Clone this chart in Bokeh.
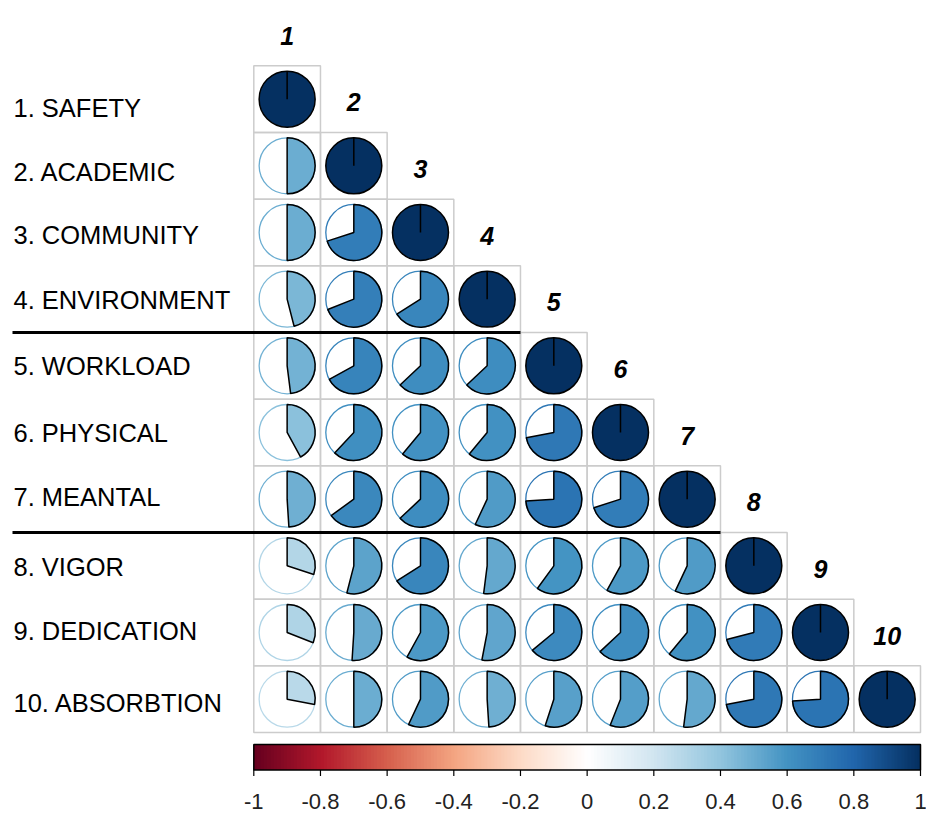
import math

import numpy as np
from bokeh.core.properties import value
from bokeh.embed import file_html
from bokeh.models import ColumnDataSource, Range1d
from bokeh.plotting import figure
from bokeh.resources import INLINE

# ---------------------------------------------------------------- data
variables = [
    "1. SAFETY", "2. ACADEMIC", "3. COMMUNITY", "4. ENVIRONMENT",
    "5. WORKLOAD", "6. PHYSICAL", "7. MEANTAL", "8. VIGOR",
    "9. DEDICATION", "10. ABSORBTION",
]
headers = ["1", "2", "3", "4", "5", "6", "7", "8", "9", "10"]

# lower triangle of the correlation matrix (row i, columns 1..i-1)
lower = [
    [],
    [0.50],
    [0.50, 0.70],
    [0.46, 0.69, 0.66],
    [0.48, 0.67, 0.63, 0.63],
    [0.42, 0.62, 0.61, 0.61, 0.72],
    [0.49, 0.65, 0.63, 0.57, 0.74, 0.70],
    [0.30, 0.54, 0.66, 0.52, 0.60, 0.58, 0.57],
    [0.31, 0.51, 0.58, 0.53, 0.64, 0.63, 0.61, 0.71],
    [0.28, 0.50, 0.57, 0.49, 0.55, 0.56, 0.52, 0.72, 0.74],
]

tick_values = [-1.0, -0.8, -0.6, -0.4, -0.2, 0.0, 0.2, 0.4, 0.6, 0.8, 1.0]
tick_labels = ["-1", "-0.8", "-0.6", "-0.4", "-0.2", "0", "0.2", "0.4", "0.6", "0.8", "1"]

# variable groups are separated after these rows
group_breaks = [4, 7]

# ---------------------------------------------------------------- palette
ramp = ["#67001F", "#B2182B", "#D6604D", "#F4A582", "#FDDBC7", "#FFFFFF",
        "#D1E5F0", "#92C5DE", "#4393C3", "#2166AC", "#053061"]


def _rgb(h):
    return tuple(int(h[k:k + 2], 16) for k in (1, 3, 5))


def make_palette(anchors, n_colors):
    rgbs = [_rgb(a) for a in anchors]
    out = []
    for k in range(n_colors):
        pos = k / (n_colors - 1) * (len(rgbs) - 1)
        lo = min(int(math.floor(pos)), len(rgbs) - 2)
        f = pos - lo
        c = [round(rgbs[lo][m] + (rgbs[lo + 1][m] - rgbs[lo][m]) * f) for m in range(3)]
        out.append("#%02x%02x%02x" % tuple(c))
    return out


palette = make_palette(ramp, 200)


def color_for(r):
    return palette[int(round((r + 1) / 2 * 199))]


# ---------------------------------------------------------------- layout
W, H = 926, 813
n = len(variables)
CELL = 66.67                 # pixels per matrix cell
X0_PX, Y0_PX = 253.3, 65.3   # top-left corner of the matrix
RADIUS = 0.42
# small vertical nudges (pixels, downwards) for the row labels
label_nudge_px = [9, 6, 3, 1, 0, 1, -2, 1, -1, 4]


def px_x(px):
    return 0.5 + (px - X0_PX) / CELL


def px_y(py):
    return n + 0.5 - (py - Y0_PX) / CELL


def row_y(i):          # i is 1-based row index, row 1 on top
    return n + 1 - i


p = figure(width=W, height=H,
           x_range=Range1d(px_x(0), px_x(W)),
           y_range=Range1d(px_y(H), px_y(0)),
           output_backend="svg", toolbar_location=None,
           min_border=0, x_axis_type=None, y_axis_type=None)
p.grid.visible = False
p.outline_line_color = None
p.background_fill_color = "white"
p.border_fill_color = "white"

# ---------------------------------------------------------------- cells
cell_x, cell_y = [], []
off = dict(x=[], y=[], r=[], color=[], start=[], end=[])
diag = dict(x=[], y=[], color=[])
for i in range(1, n + 1):
    for j in range(1, i + 1):
        cell_x.append(j)
        cell_y.append(row_y(i))
        if j == i:
            diag["x"].append(j)
            diag["y"].append(row_y(i))
            diag["color"].append(color_for(1.0))
        else:
            r = lower[i - 1][j - 1]
            off["x"].append(j)
            off["y"].append(row_y(i))
            off["r"].append(r)
            off["color"].append(color_for(r))
            off["start"].append(math.pi / 2)
            off["end"].append(math.pi / 2 - 2 * math.pi * r)

p.rect(x=cell_x, y=cell_y, width=1, height=1, fill_color=None,
       line_color="#CCCCCC", line_width=1.5)

off_src = ColumnDataSource(off)
p.circle(x="x", y="y", radius=RADIUS, source=off_src, fill_color="white",
         line_color="color", line_width=1.3)
p.wedge(x="x", y="y", radius=RADIUS, start_angle="start", end_angle="end",
        direction="clock", source=off_src, fill_color="color",
        line_color="black", line_width=1.5)

diag_src = ColumnDataSource(diag)
p.circle(x="x", y="y", radius=RADIUS, source=diag_src, fill_color="color",
         line_color="black", line_width=1.5)
p.segment(x0=diag["x"], y0=diag["y"], x1=diag["x"],
          y1=[y + RADIUS for y in diag["y"]], line_color="black", line_width=1.5)

# ---------------------------------------------------------------- group separators
for b in group_breaks:
    p.segment(x0=[px_x(12)], y0=[n + 0.5 - b], x1=[b + 0.5], y1=[n + 0.5 - b],
              line_color="black", line_width=3)

# ---------------------------------------------------------------- labels
p.text(x=[px_x(13)] * n,
       y=[row_y(i) - label_nudge_px[i - 1] / CELL for i in range(1, n + 1)],
       text=variables,
       text_font=value("Liberation Sans"), text_font_size="25.5px",
       text_align="left", text_baseline="middle", text_color="black")

p.text(x=list(range(1, n + 1)), y=[row_y(j) + 0.5 + 0.45 for j in range(1, n + 1)],
       text=headers, text_font=value("Liberation Sans"), text_font_size="25px",
       text_font_style="bold italic", text_align="center",
       text_baseline="middle", text_color="black")

# ---------------------------------------------------------------- colour bar
def val_x(v):
    return 0.5 + (v + 1) / 2 * n


cb_top, cb_bot = px_y(744), px_y(769.5)
rgba = np.zeros((1, len(palette)), dtype=np.uint32)
view = rgba.view(dtype=np.uint8).reshape((1, len(palette), 4))
for k, c in enumerate(palette):
    view[0, k, :3] = _rgb(c)
    view[0, k, 3] = 255
p.image_rgba(image=[rgba], x=val_x(-1), y=cb_bot, dw=val_x(1) - val_x(-1),
             dh=cb_top - cb_bot)
p.rect(x=[val_x(0)], y=[(cb_top + cb_bot) / 2], width=val_x(1) - val_x(-1),
       height=cb_top - cb_bot, fill_color=None, line_color="black", line_width=1.5)

tx = [val_x(t) for t in tick_values]
p.segment(x0=tx, y0=[cb_bot] * len(tx), x1=tx, y1=[cb_bot - 6 / CELL] * len(tx),
          line_color="black", line_width=1.2)
p.text(x=tx, y=[px_y(801)] * len(tx), text=tick_labels,
       text_font=value("Liberation Sans"), text_font_size="22px",
       text_align="center", text_baseline="middle", text_color="#222222")

open("out.html", "w").write(file_html(p, INLINE))
